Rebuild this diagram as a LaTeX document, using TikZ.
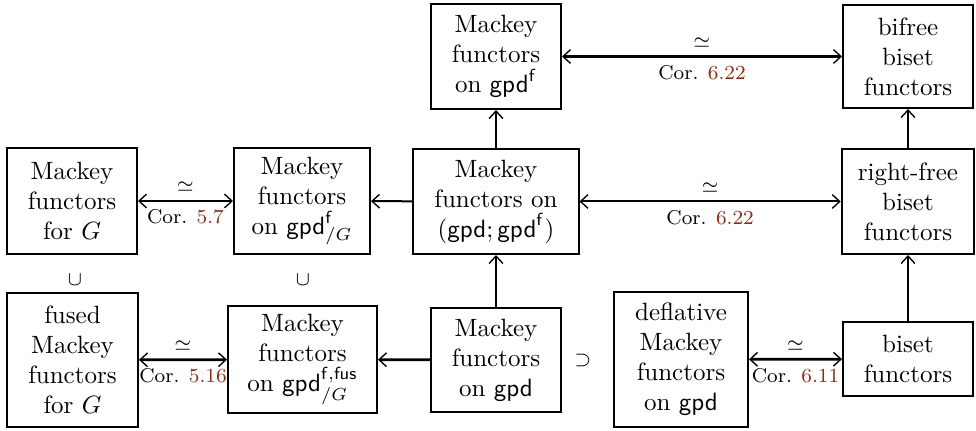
\documentclass[tikz,border=0pt]{standalone}
\usetikzlibrary{arrows.meta}
\definecolor{refcol}{RGB}{140,45,20}
\begin{document}
\begin{tikzpicture}[x=0.4pt,y=-0.4pt,
  box/.style={draw,line width=0.8pt,align=center,inner sep=0pt,font=\fontsize{10}{12}\selectfont},
  tip/.tip={Straight Barb[length=3pt,width=5.5pt,line width=0.55pt]},
  arr/.style={line width=0.8pt,-tip},
  biarr/.style={line width=0.8pt,tip-tip},
  thk/.style={line width=1.1pt},
  iso/.style={midway,yshift=5.6pt,inner sep=0pt,font=\footnotesize},
  cor/.style={midway,yshift=-6.4pt,inner sep=0pt,font=\footnotesize},
  rel/.style={inner sep=0pt,font=\footnotesize}]
\useasboundingbox (0,0) rectangle (976,431);
% nodes
\node[box,minimum width=52pt,minimum height=42.4pt] (A) at (72,201) {Mackey\\functors\\for $G$};
\node[box,minimum width=54.4pt,minimum height=42.4pt] (B) at (302,201) {Mackey\\functors\\on $\mathsf{gpd}^{\mathsf{f}}_{/G}$};
\node[box,minimum width=66pt,minimum height=42pt] (C) at (496,201.5) {Mackey\\functors on\\$(\mathsf{gpd};\mathsf{gpd}^{\mathsf{f}})$};
\node[box,minimum width=52pt,minimum height=42pt] (D) at (496,56.5) {Mackey\\functors\\on $\mathsf{gpd}^{\mathsf{f}}$};
\node[box,minimum width=52pt,minimum height=41.2pt] (E) at (908,56.5) {bifree\\biset\\functors};
\node[box,minimum width=53pt,minimum height=42pt] (F) at (908,201.5) {right-free\\biset\\functors};
\node[box,minimum width=52pt,minimum height=29.6pt] (G) at (908,359) {biset\\functors};
\node[box,minimum width=53.6pt,minimum height=54pt] (H) at (681,359.5) {deflative\\Mackey\\functors\\on $\mathsf{gpd}$};
\node[box,minimum width=52pt,minimum height=41.6pt] (I) at (496,360) {Mackey\\functors\\on $\mathsf{gpd}$};
\node[box,minimum width=59.6pt,minimum height=42.8pt] (J) at (302.5,359.5) {Mackey\\functors\\on $\mathsf{gpd}^{\mathsf{f},\mathsf{fus}}_{/G}$};
\node[box,minimum width=52.4pt,minimum height=53.6pt] (K) at (72.5,360) {fused\\Mackey\\functors\\for $G$};
% relation symbols
\node[rel] (u1) at (75,280) {$\cup$};
\node[rel] (u2) at (303,280) {$\cup$};
\node[rel] (s1) at (583,361) {$\supset$};
% arrows
\draw[arr,thk] (C) -- (D);
\draw[arr] (C) -- (B);
\draw[biarr] (A) -- (B) node[iso] {$\simeq$} node[cor] {Cor. \textcolor{refcol}{5.7}};
\draw[biarr,thk] (D) -- (E) node[iso] {$\simeq$} node[cor] {Cor. \textcolor{refcol}{6.22}};
\draw[biarr] (C) -- (F) node[iso] {$\simeq$} node[cor] {Cor. \textcolor{refcol}{6.22}};
\draw[arr] (F) -- (E);
\draw[arr] (G) -- (F);
\draw[arr,thk] (I) -- (C);
\draw[arr,thk] (I) -- (J);
\draw[biarr,thk] (K) -- (J) node[iso] {$\simeq$} node[cor] {Cor. \textcolor{refcol}{5.16}};
\draw[biarr,thk] (H) -- (G) node[iso] {$\simeq$} node[cor] {Cor. \textcolor{refcol}{6.11}};
\end{tikzpicture}
\end{document}
